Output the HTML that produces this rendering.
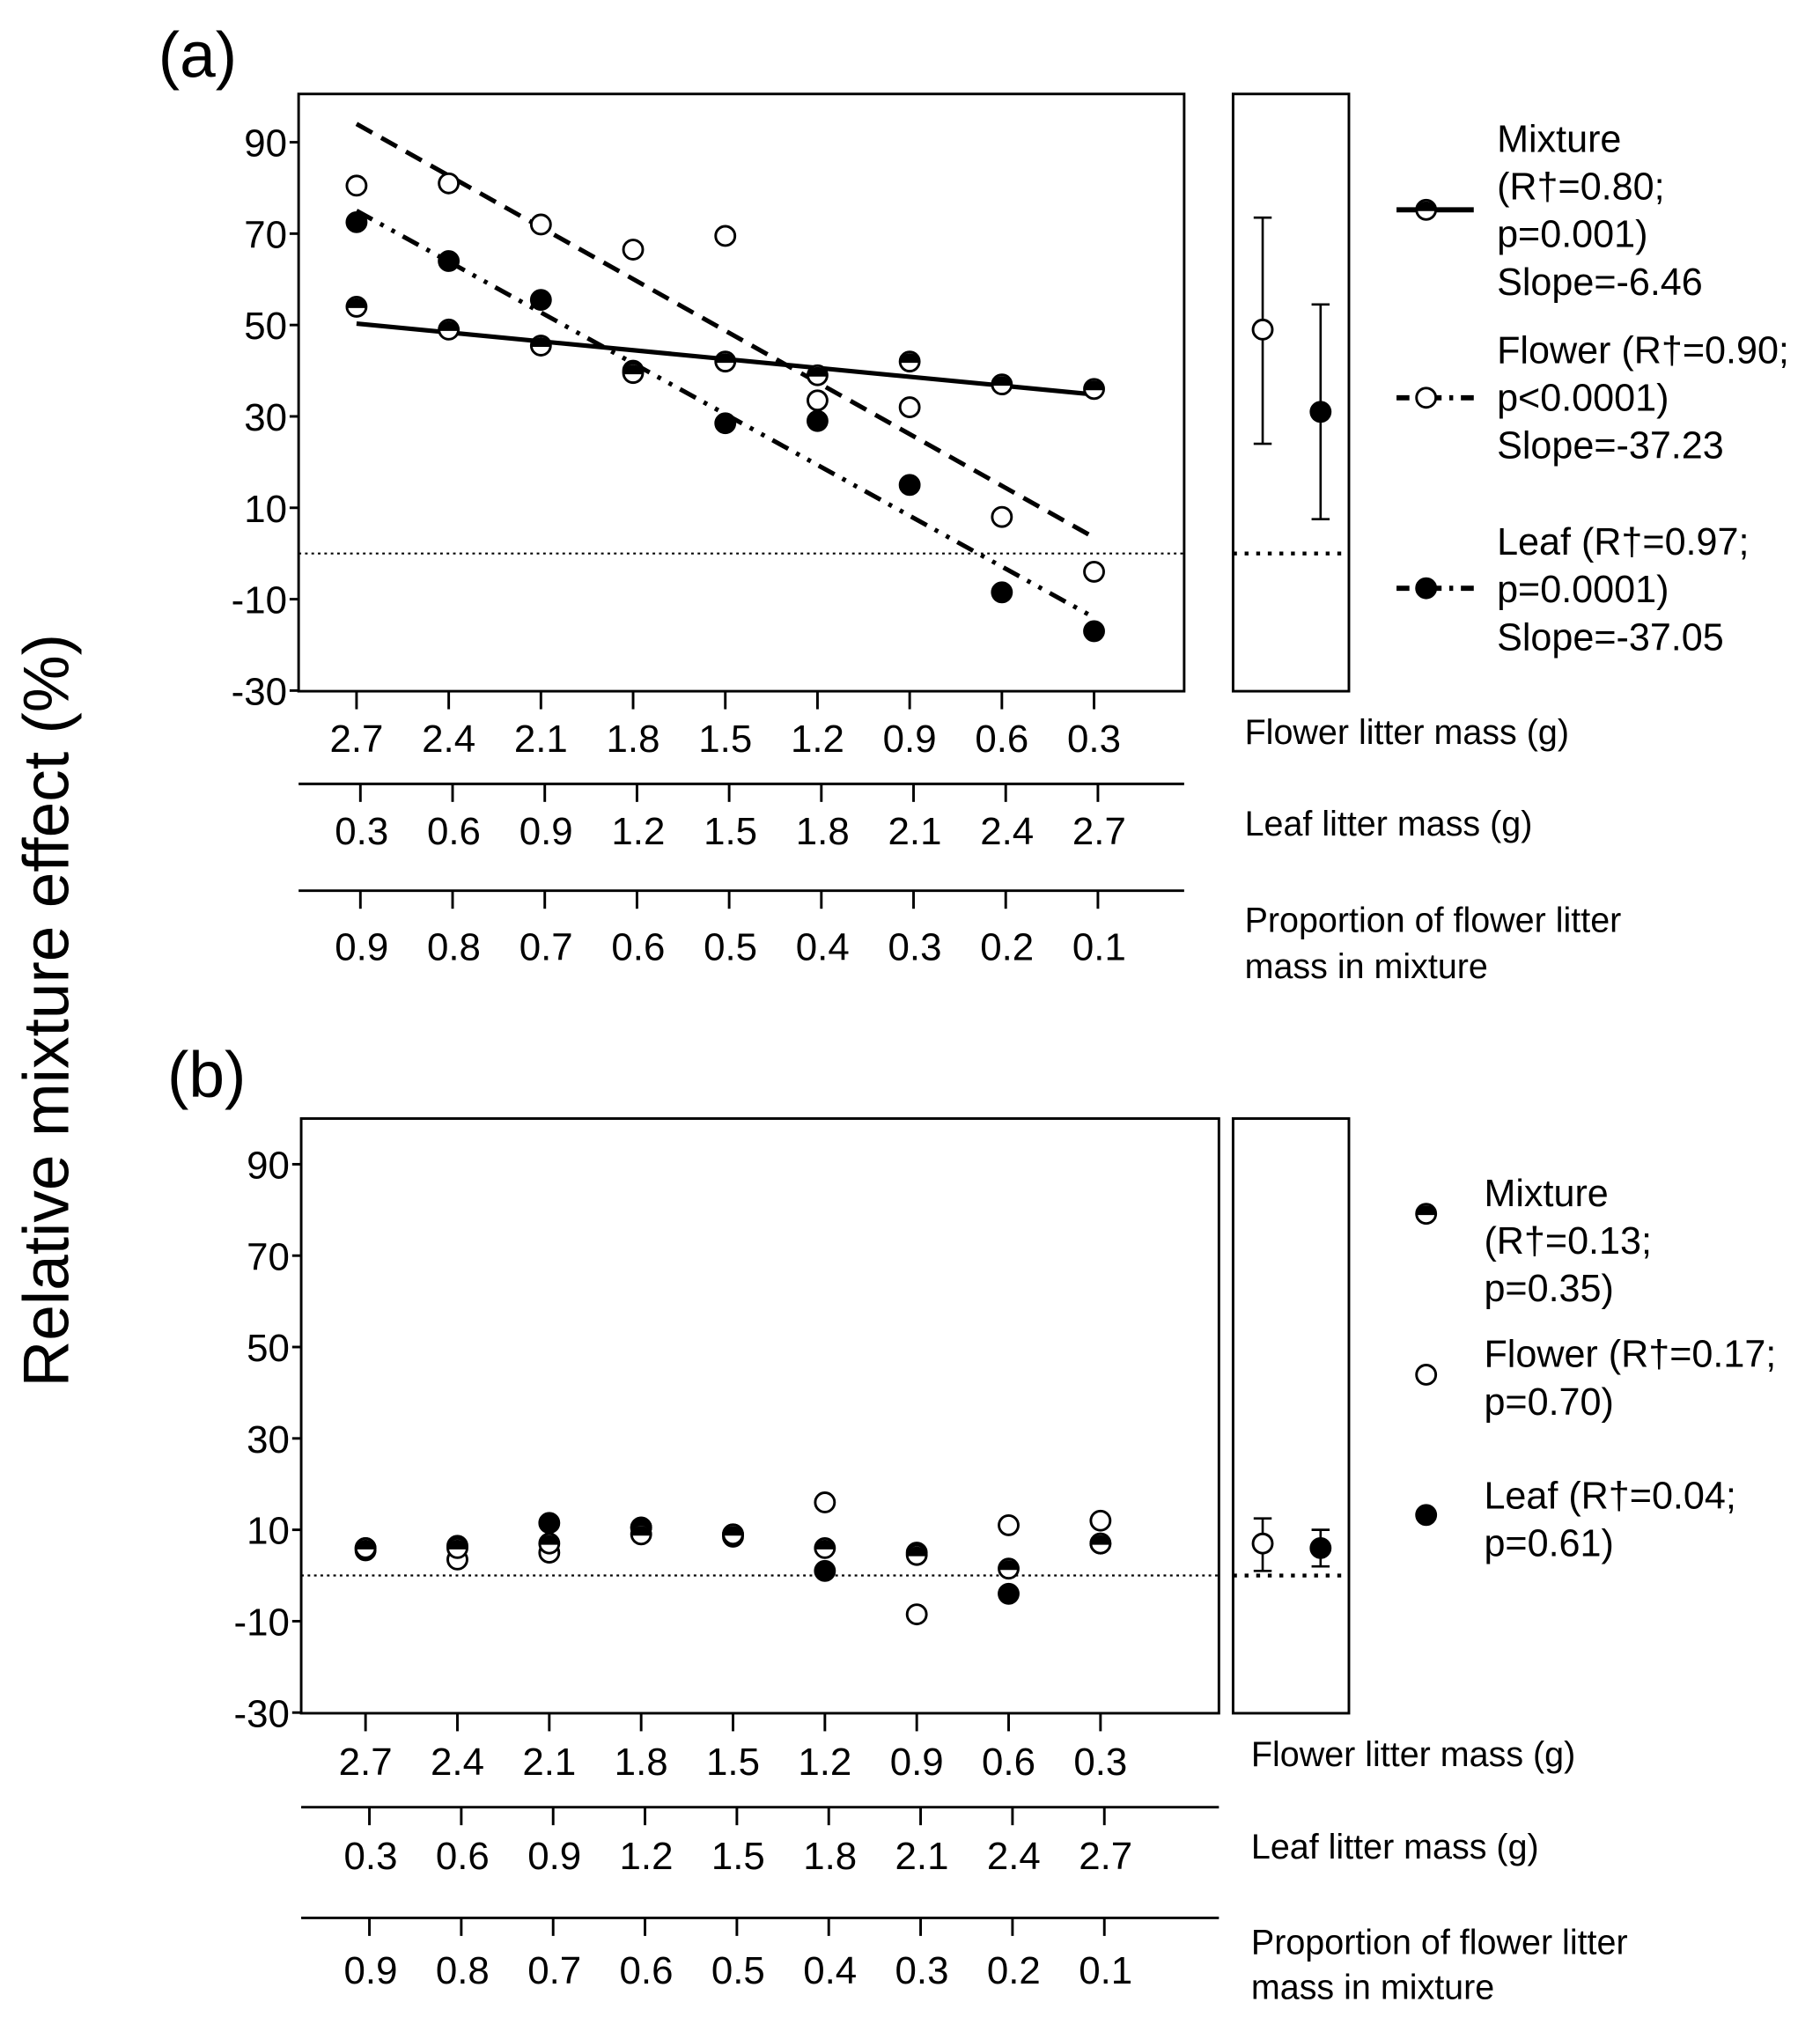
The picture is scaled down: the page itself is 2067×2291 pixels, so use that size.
<!DOCTYPE html>
<html><head><meta charset="utf-8"><style>
html,body{margin:0;padding:0;background:#fff}
svg{display:block}
text{font-family:"Liberation Sans",Arial,sans-serif;fill:#000}
</style></head><body>
<svg id="chart" width="2067" height="2291" viewBox="0 0 1414 1567" preserveAspectRatio="none" xmlns="http://www.w3.org/2000/svg"></svg>
<script>
const flowerMass = ["2.7","2.4","2.1","1.8","1.5","1.2","0.9","0.6","0.3"];
const leafMass = ["0.3","0.6","0.9","1.2","1.5","1.8","2.1","2.4","2.7"];
const proportion = ["0.9","0.8","0.7","0.6","0.5","0.4","0.3","0.2","0.1"];
const yTicks = [90,70,50,30,10,-10,-30];
// panel a
const aMixture = [54,49,45.5,39.5,42,39,42,37,36];
const aFlower = [80.5,81,72,66.5,69.5,33.5,32,8,-4];
const aLeaf = [72.5,64,55.5,40,28.5,29,15,-8.5,-17];
const aMixLine = [50.3,34.8];
const aFlowerLine = [94,3.5];
const aLeafLine = [75,-14];
const aMeans = [49,31];
const aLow = [24,7.5];
const aHigh = [73.5,54.5];
// panel b
const bMixture = [6,6,7,9,9,6,4.5,1.5,7];
const bFlower = [5.5,3.5,5,10.5,8.5,16,-8.5,11,12];
const bLeaf = [6,6.5,11.5,10.5,9,1,5,-4,7];
const bMeans = [7,6];
const bLow = [1,2];
const bHigh = [12.5,10];

const NS="http://www.w3.org/2000/svg";
const svg=document.getElementById('chart');
function mk(tag,attrs,parent,txt){const e=document.createElementNS(NS,tag);for(const k in attrs)e.setAttribute(k,attrs[k]);if(txt!==undefined)e.textContent=txt;(parent||svg).appendChild(e);return e;}

function panel(P){
  const g=mk('g',{});
  
  
  const y=v=>P.y0-v*P.py;
  const x=i=>P.xl+i*(P.xr-P.xl)/8;
  const box=mk('rect',{x:P.bl,y:P.bt,width:P.br-P.bl,height:P.bb-P.bt,fill:'none',stroke:'#000','stroke-width':2},g);
  
  
  const side=mk('rect',{x:958,y:P.bt,width:90,height:P.bb-P.bt,fill:'none',stroke:'#000','stroke-width':2},g);
  
  
  yTicks.forEach(v=>{
    mk('line',{x1:P.bl-7,x2:P.bl,y1:y(v),y2:y(v),stroke:'#000','stroke-width':2},g);
    const t=mk('text',{x:P.bl-9,y:y(v)+11,'font-size':30,'text-anchor':'end'},g,String(v));
    
    
  });
  const z=mk('line',{x1:P.bl,x2:P.br,y1:y(0),y2:y(0),stroke:'#000','stroke-width':1.5,'stroke-dasharray':'2,3'},g);
  
  
  mk('line',{x1:958,x2:1048,y1:y(0),y2:y(0),stroke:'#000','stroke-width':3,'stroke-dasharray':'3,6'},g);
  const rows=[[flowerMass,P.r1,null,'flower-mass-axis'],[leafMass,P.r2,P.l2,'leaf-mass-axis'],[proportion,P.r3,P.l3,'proportion-axis']];
  rows.forEach(([labs,ly,lineY,nm],ri)=>{
    const base=lineY===null?P.bb:lineY;
    if(lineY!==null)mk('line',{x1:P.bl,x2:P.br,y1:lineY,y2:lineY,stroke:'#000','stroke-width':2},g);
    labs.forEach((l,i)=>{
      mk('line',{x1:x(i)+(ri?3:0),x2:x(i)+(ri?3:0),y1:base,y2:base+14,stroke:'#000','stroke-width':2},g);
      const t=mk('text',{x:x(i)+(ri?4:0),y:ly,'font-size':30,'text-anchor':'middle'},g,l);
      
      
    });
  });
  P.axisTitles.forEach(([s,yy])=>{const t=mk('text',{x:P.atx,y:yy,'font-size':27},g,s);});
  if(P.lines){P.lines.forEach(([ends,dash,nm])=>{
    const l=mk('line',{x1:x(0),x2:x(8),y1:y(ends[0]),y2:y(ends[1]),stroke:'#000','stroke-width':3.5,'stroke-dasharray':dash},g);
    
    
  });}
  function pt(cx,cy,type,nm){
    const r=7.5;
    if(type==='open'){const c=mk('circle',{cx,cy,r,fill:'#fff',stroke:'#000','stroke-width':2},g);}
    else if(type==='fill'){const c=mk('circle',{cx,cy,r,fill:'#000',stroke:'#000','stroke-width':2},g);}
    else{const c=mk('circle',{cx,cy,r,fill:'#fff',stroke:'#000','stroke-width':2},g);
      mk('path',{d:`M${cx-r},${cy+1} A${r},${r} 0 0 1 ${cx+r},${cy+1} Z`,fill:'#000'},g);}
  }
  P.flower.forEach((v,i)=>pt(x(i),y(v),'open','flower-point'));
  P.leaf.forEach((v,i)=>pt(x(i),y(v),'fill','leaf-point'));
  P.mix.forEach((v,i)=>pt(x(i),y(v),'half','mixture-point'));
  [[981,'open',0],[1026,'fill',1]].forEach(([cx,tp,k])=>{
    const e=mk('g',{},g);
    
    
    mk('line',{x1:cx,x2:cx,y1:y(P.high[k]),y2:y(P.low[k]),stroke:'#000','stroke-width':1.8},e);
    mk('line',{x1:cx-7,x2:cx+7,y1:y(P.high[k]),y2:y(P.high[k]),stroke:'#000','stroke-width':1.8},e);
    mk('line',{x1:cx-7,x2:cx+7,y1:y(P.low[k]),y2:y(P.low[k]),stroke:'#000','stroke-width':1.8},e);
    mk('circle',{cx,cy:y(P.means[k]),r:7.5,fill:tp==='open'?'#fff':'#000',stroke:'#000','stroke-width':2},e);
  });
  P.legend.forEach(([lines,my,type,dash,startY])=>{
    const e=mk('g',{},g);
    
    
    if(dash!==null)mk('line',{x1:1085,x2:1145,y1:my,y2:my,stroke:'#000','stroke-width':4,'stroke-dasharray':dash},e);
    const mx=1108;
    if(type==='half'){mk('circle',{cx:mx,cy:my,r:7.5,fill:'#fff',stroke:'#000','stroke-width':2},e);mk('path',{d:`M${mx-7.5},${my+1} A7.5,7.5 0 0 1 ${mx+7.5},${my+1} Z`,fill:'#000'},e);}
    else mk('circle',{cx:mx,cy:my,r:7.5,fill:type==='open'?'#fff':'#000',stroke:'#000','stroke-width':2},e);
    lines.forEach((s,i)=>mk('text',{x:P.ltx,y:startY+i*37,'font-size':29.5},e,s));
  });
  const pl=mk('text',{x:P.plx,y:P.ply,'font-size':50},g,P.label);
  
  
}

panel({name:'panel-a',label:'(a)',plx:123,ply:60,bl:232,br:920,bt:73,bb:537,y0:430,py:3.55,xl:277,xr:850,
  r1:584,r2:656,l2:609,r3:746,l3:692,atx:967,
  axisTitles:[['Flower litter mass (g)',578],['Leaf litter mass (g)',649],['Proportion of flower litter',724],['mass in mixture',760]],
  mix:aMixture,flower:aFlower,leaf:aLeaf,means:aMeans,low:aLow,high:aHigh,
  lines:[[aMixLine,'','mixture-fit-line'],[aFlowerLine,'14,8','flower-fit-line'],[aLeafLine,'14,7,3,7,3,7','leaf-fit-line']],
  ltx:1163,
  legend:[[['Mixture','(R\u2020=0.80;','p=0.001)','Slope=-6.46'],163,'half','',118],
          [['Flower (R\u2020=0.90;','p<0.0001)','Slope=-37.23'],309,'open','10,6,3,6',282],
          [['Leaf (R\u2020=0.97;','p=0.0001)','Slope=-37.05'],457,'fill','10,6,3,6',431]]
});
panel({name:'panel-b',label:'(b)',plx:130,ply:852,bl:234,br:947,bt:869,bb:1331,y0:1224,py:3.55,xl:284,xr:855,
  r1:1379,r2:1452,l2:1404,r3:1541,l3:1490,atx:972,
  axisTitles:[['Flower litter mass (g)',1372],['Leaf litter mass (g)',1444],['Proportion of flower litter',1518],['mass in mixture',1553]],
  mix:bMixture,flower:bFlower,leaf:bLeaf,means:bMeans,low:bLow,high:bHigh,lines:null,
  ltx:1153,
  legend:[[['Mixture','(R\u2020=0.13;','p=0.35)'],943,'half',null,937],
          [['Flower (R\u2020=0.17;','p=0.70)'],1068,'open',null,1062],
          [['Leaf (R\u2020=0.04;','p=0.61)'],1177,'fill',null,1172]]
});
const yt=mk('text',{x:0,y:0,'font-size':50,'text-anchor':'middle',transform:'translate(53,785) rotate(-90)'},svg,'Relative mixture effect (%)');


</script>
</body></html>
